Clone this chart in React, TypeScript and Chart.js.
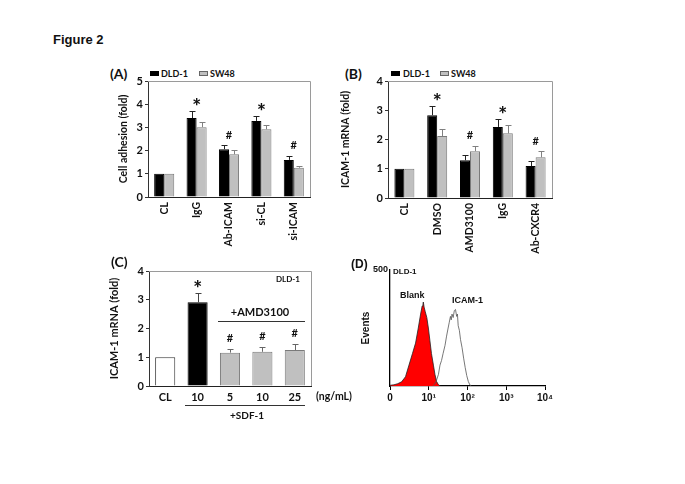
import React, { useEffect, useRef } from 'react';
import { Chart, registerables } from 'chart.js';
Chart.register(...registerables);

const SANS = 'Lato, "Open Sans", sans-serif';
const ARIAL = '"Liberation Sans", Arial, sans-serif';

// Panel A: cell adhesion
const adhesionCategories = ['CL', 'IgG', 'Ab-ICAM', 'si-CL', 'si-ICAM'];
const adhesionDLD1 = [1, 3.4, 2.06, 3.28, 1.6];
const adhesionDLD1Err = [0, 0.3, 0.17, 0.22, 0.18];
const adhesionSW48 = [1, 3.01, 1.84, 2.92, 1.26];
const adhesionSW48Err = [0, 0.21, 0.18, 0.18, 0.08];
const adhesionMarks = ['', '*', '#', '*', '#'];

// Panel B: ICAM-1 mRNA
const mrnaCategories = ['CL', 'DMSO', 'AMD3100', 'IgG', 'Ab-CXCR4'];
const mrnaDLD1 = [1, 2.83, 1.29, 2.43, 1.09];
const mrnaDLD1Err = [0, 0.32, 0.19, 0.27, 0.16];
const mrnaSW48 = [1, 2.12, 1.6, 2.21, 1.39];
const mrnaSW48Err = [0, 0.25, 0.19, 0.3, 0.21];
const mrnaMarks = ['', '*', '#', '*', '#'];

// Panel C: SDF-1 / AMD3100
const sdfLabels = ['CL', '10', '5', '10', '25'];
const sdfValues = [1, 2.91, 1.16, 1.19, 1.25];
const sdfErr = [0, 0.31, 0.13, 0.18, 0.22];
const sdfMarks = ['', '*', '#', '#', '#'];

// Panel D: flow cytometry (x in decades)
const flowTickLabels = ['0', '10¹', '10²', '10³', '10⁴'];
const blankX = [0, 0.1, 0.2, 0.3, 0.4, 0.49, 0.58, 0.66, 0.73, 0.79, 0.83, 0.85, 0.86, 0.88, 0.91, 0.95, 0.99, 1.03, 1.07, 1.12, 1.16, 1.2, 1.25, 1.3];
const blankY = [3, 5, 10, 18, 40, 90, 140, 185, 250, 310, 345, 352, 362, 340, 320, 295, 250, 195, 140, 90, 50, 20, 5, 0];
const icamX = [1.1, 1.15, 1.2, 1.25, 1.29, 1.33, 1.37, 1.42, 1.46, 1.5, 1.53, 1.56, 1.58, 1.6, 1.63, 1.66, 1.69, 1.72, 1.74, 1.76, 1.79, 1.82, 1.86, 1.9, 1.94, 1.98, 2.02, 2.06, 2.1];
const icamY = [0, 8, 25, 50, 90, 110, 140, 175, 215, 250, 275, 300, 285, 310, 295, 325, 330, 300, 310, 260, 240, 200, 165, 120, 80, 45, 20, 5, 0];

const framePlugin = {
  id: 'frame',
  beforeDatasetsDraw(chart: any, _a: any, opts: any) {
    if (!opts || !opts.show) return;
    const { ctx, chartArea: a } = chart;
    ctx.save();
    ctx.strokeStyle = '#9a9a9a';
    ctx.lineWidth = 1;
    ctx.beginPath();
    ctx.moveTo(a.left, Math.round(a.top) + 0.5);
    ctx.lineTo(Math.round(a.right) + 0.5, Math.round(a.top) + 0.5);
    ctx.lineTo(Math.round(a.right) + 0.5, a.bottom);
    ctx.stroke();
    ctx.restore();
  },
};

const errorBarPlugin = {
  id: 'errorBars',
  afterDatasetsDraw(chart: any) {
    const ctx = chart.ctx;
    const ys = chart.scales.y;
    chart.data.datasets.forEach((ds: any, di: number) => {
      if (!ds.errors) return;
      const meta = chart.getDatasetMeta(di);
      meta.data.forEach((el: any, i: number) => {
        const e = ds.errors[i];
        if (!e) return;
        const top = ys.getPixelForValue(ds.data[i] + e);
        const x = Math.round(el.x) + 0.5;
        ctx.save();
        ctx.strokeStyle = Array.isArray(ds.errColor) ? ds.errColor[i] : ds.errColor;
        ctx.lineWidth = 1;
        ctx.beginPath();
        ctx.moveTo(x, el.y);
        ctx.lineTo(x, Math.round(top) + 0.5);
        ctx.moveTo(x - 3, Math.round(top) + 0.5);
        ctx.lineTo(x + 3, Math.round(top) + 0.5);
        ctx.stroke();
        ctx.restore();
      });
    });
  },
};

const marksPlugin = {
  id: 'marks',
  afterDatasetsDraw(chart: any, _a: any, opts: any) {
    if (!opts || !opts.labels) return;
    const ctx = chart.ctx;
    const xs = chart.scales.x;
    const ys = chart.scales.y;
    opts.labels.forEach((lab: string, i: number) => {
      if (!lab) return;
      let top = Infinity;
      chart.data.datasets.forEach((ds: any) => {
        const v = ds.data[i] + (ds.errors ? ds.errors[i] : 0);
        top = Math.min(top, ys.getPixelForValue(v));
      });
      const x = xs.getPixelForValue(i);
      ctx.save();
      ctx.fillStyle = '#111';
      ctx.textAlign = 'center';
      ctx.textBaseline = 'middle';
      if (lab === '*') {
        ctx.font = `900 21px ${SANS}`;
        ctx.fillText('*', x, top - 4);
      } else {
        ctx.font = `bold 11px ${SANS}`;
        ctx.fillText(lab, x, top - 10);
      }
      ctx.restore();
    });
  },
};

type BarProps = {
  left: number; top: number; width: number; height: number;
  padTop: number; padRight: number; yWidth: number; xHeight: number;
  labels: string[]; datasets: any[]; yMax: number;
  yTitle: string; titlePad: number; titleSize: number;
  rotate: boolean; barPct: number; catPct: number; marks: string[]; xPad: number; xSize: number;
};

function BarPanel(p: BarProps) {
  const ref = useRef<HTMLCanvasElement>(null);
  useEffect(() => {
    const chart = new Chart(ref.current as HTMLCanvasElement, {
      type: 'bar',
      data: { labels: p.labels, datasets: p.datasets },
      options: {
        responsive: false,
        animation: false,
        layout: { padding: { top: p.padTop, right: p.padRight, left: 0, bottom: 0 } },
        datasets: { bar: { barPercentage: p.barPct, categoryPercentage: p.catPct } },
        plugins: {
          legend: { display: false },
          tooltip: { enabled: false },
          frame: { show: true },
          marks: { labels: p.marks },
        } as any,
        scales: {
          x: {
            grid: { display: false, drawTicks: false },
            border: { color: '#222', width: 1 },
            ticks: {
              color: '#111',
              font: { family: SANS, weight: 'bold', size: p.xSize },
              padding: p.xPad,
              minRotation: p.rotate ? 90 : 0,
              maxRotation: p.rotate ? 90 : 0,
              autoSkip: false,
            },
            afterFit: (s: any) => { s.height = p.xHeight; },
          },
          y: {
            min: 0,
            max: p.yMax,
            ticks: { stepSize: 1, color: '#111', font: { family: SANS, weight: 'bold', size: 11 }, padding: 2 },
            grid: { drawOnChartArea: false, drawTicks: true, tickLength: 3, color: '#333' },
            border: { color: '#333', width: 1 },
            title: {
              display: true,
              text: p.yTitle,
              color: '#111',
              font: { family: SANS, weight: 'bold', size: p.titleSize },
              padding: { top: p.titlePad, bottom: 0 },
            },
            afterFit: (s: any) => { s.width = p.yWidth; },
          },
        },
      } as any,
      plugins: [framePlugin, errorBarPlugin, marksPlugin],
    });
    return () => chart.destroy();
  }, []);
  return (
    <canvas
      ref={ref}
      width={p.width}
      height={p.height}
      style={{ position: 'absolute', left: p.left, top: p.top, width: p.width, height: p.height }}
    />
  );
}

function FlowPanel() {
  const ref = useRef<HTMLCanvasElement>(null);
  useEffect(() => {
    const chart = new Chart(ref.current as HTMLCanvasElement, {
      type: 'line',
      data: {
        datasets: [
          {
            label: 'ICAM-1',
            data: icamX.map((x, i) => ({ x, y: icamY[i] })),
            borderColor: '#555',
            borderWidth: 0.8,
            fill: false,
            pointRadius: 0,
            tension: 0,
          },
          {
            label: 'Blank',
            data: blankX.map((x, i) => ({ x, y: blankY[i] })),
            borderColor: '#222',
            borderWidth: 0.8,
            backgroundColor: '#ff0000',
            fill: 'origin',
            pointRadius: 0,
            tension: 0,
          },
        ],
      },
      options: {
        responsive: false,
        animation: false,
        layout: { padding: { top: 15, right: 25, left: 0, bottom: 0 } },
        plugins: { legend: { display: false }, tooltip: { enabled: false } },
        scales: {
          x: {
            type: 'linear',
            min: 0,
            max: 4,
            afterBuildTicks: (s: any) => { s.ticks = [0, 1, 2, 3, 4].map((v) => ({ value: v })); },
            ticks: {
              callback: (_v: any, i: number) => flowTickLabels[i],
              color: '#111',
              font: { family: ARIAL, weight: 'bold', size: 10 },
              padding: 2,
              maxRotation: 0,
            },
            grid: { display: true, drawOnChartArea: false, drawTicks: true, tickLength: 4, color: '#000' },
            border: { color: '#000', width: 1.3 },
            afterFit: (s: any) => { s.height = 29; },
          },
          y: {
            min: 0,
            max: 500,
            afterBuildTicks: (s: any) => { s.ticks = [{ value: 500 }]; },
            ticks: { color: '#111', font: { family: ARIAL, weight: 'bold', size: 9 }, padding: 2 },
            grid: { display: false, drawTicks: false },
            border: { color: '#000', width: 1.3 },
            title: {
              display: true,
              text: 'Events',
              color: '#111',
              font: { family: ARIAL, weight: 'bold', size: 10 },
              padding: { top: 20, bottom: 0 },
            },
            afterFit: (s: any) => { s.width = 50; },
          },
        },
      } as any,
    });
    return () => chart.destroy();
  }, []);
  return (
    <canvas
      ref={ref}
      width={230}
      height={160}
      style={{ position: 'absolute', left: 340, top: 255, width: 230, height: 160 }}
    />
  );
}

function Txt(props: { x: number; y: number; text: string; size: number; family?: string; align?: 'left' | 'center' | 'right' }) {
  const align = props.align || 'left';
  const tx = align === 'center' ? '-50%' : align === 'right' ? '-100%' : '0';
  return (
    <div
      style={{
        position: 'absolute',
        left: props.x,
        top: props.y,
        transform: `translate(${tx}, -50%)`,
        font: `bold ${props.size}px ${props.family || SANS}`,
        lineHeight: `${props.size}px`,
        whiteSpace: 'nowrap',
        color: '#111',
      }}
    >
      {props.text}
    </div>
  );
}

function Swatch(props: { x: number; y: number; fill: string; border: string }) {
  return (
    <div
      style={{
        position: 'absolute',
        left: props.x,
        top: props.y,
        width: 9,
        height: 5,
        boxSizing: 'border-box',
        background: props.fill,
        border: `1px solid ${props.border}`,
      }}
    />
  );
}

function HLine(props: { x: number; y: number; w: number }) {
  return <div style={{ position: 'absolute', left: props.x, top: props.y, width: props.w, height: 1, background: '#333' }} />;
}

export default function App() {
  const dsA = [
    { label: 'DLD-1', data: adhesionDLD1, errors: adhesionDLD1Err, errColor: '#222', backgroundColor: '#000', borderColor: '#000', borderWidth: 1 },
    { label: 'SW48', data: adhesionSW48, errors: adhesionSW48Err, errColor: '#808080', backgroundColor: '#c0c0c0', borderColor: '#7a7a7a', borderWidth: 1 },
  ];
  const dsB = [
    { label: 'DLD-1', data: mrnaDLD1, errors: mrnaDLD1Err, errColor: '#222', backgroundColor: '#000', borderColor: '#000', borderWidth: 1 },
    { label: 'SW48', data: mrnaSW48, errors: mrnaSW48Err, errColor: '#808080', backgroundColor: '#c0c0c0', borderColor: '#7a7a7a', borderWidth: 1 },
  ];
  const dsC = [
    {
      label: 'DLD-1',
      data: sdfValues,
      errors: sdfErr,
      errColor: ['#444', '#444', '#666', '#666', '#666'],
      backgroundColor: ['#ffffff', '#000000', '#c0c0c0', '#c0c0c0', '#c0c0c0'],
      borderColor: ['#333', '#000', '#7a7a7a', '#7a7a7a', '#7a7a7a'],
      borderWidth: 1,
    },
  ];
  return (
    <div style={{ position: 'fixed', left: 0, top: 0, width: 685, height: 484, background: '#fff', overflow: 'hidden' }}>
      <Txt x={53} y={39} text="Figure 2" size={13} family={ARIAL} />

      {/* Panel A */}
      <Txt x={110} y={74} text="(A)" size={14} />
      <Swatch x={150} y={71} fill="#000" border="#000" />
      <Txt x={161} y={73} text="DLD-1" size={9} />
      <Swatch x={199} y={71} fill="#c0c0c0" border="#666" />
      <Txt x={210} y={73} text="SW48" size={9} />
      <BarPanel
        left={100} top={60} width={215} height={200}
        padTop={21} padRight={5} yWidth={48} xHeight={63}
        labels={adhesionCategories} datasets={dsA} yMax={5}
        yTitle="Cell adhesion (fold)" titlePad={17} titleSize={10.5}
        rotate={true} barPct={1} catPct={0.62} marks={adhesionMarks} xPad={5} xSize={10.5}
      />

      {/* Panel B */}
      <Txt x={345} y={74} text="(B)" size={14} />
      <Swatch x={391} y={71} fill="#000" border="#000" />
      <Txt x={403} y={73} text="DLD-1" size={9} />
      <Swatch x={440} y={71} fill="#c0c0c0" border="#666" />
      <Txt x={451} y={73} text="SW48" size={9} />
      <BarPanel
        left={330} top={60} width={230} height={200}
        padTop={21} padRight={8} yWidth={58} xHeight={62}
        labels={mrnaCategories} datasets={dsB} yMax={4}
        yTitle="ICAM-1 mRNA (fold)" titlePad={9} titleSize={10.5}
        rotate={true} barPct={1} catPct={0.61} marks={mrnaMarks} xPad={5} xSize={10.5}
      />

      {/* Panel C */}
      <Txt x={111} y={262} text="(C)" size={14} />
      <BarPanel
        left={100} top={255} width={225} height={150}
        padTop={16} padRight={14} yWidth={49} xHeight={19}
        labels={sdfLabels} datasets={dsC} yMax={4}
        yTitle="ICAM-1 mRNA (fold)" titlePad={8} titleSize={11}
        rotate={false} barPct={0.62} catPct={1} marks={sdfMarks} xPad={5} xSize={11}
      />
      <Txt x={276} y={279} text="DLD-1" size={8} />
      <Txt x={260} y={311} text="+AMD3100" size={11} align="center" />
      <HLine x={218} y={321} w={87} />
      <Txt x={316} y={396} text="(ng/mL)" size={10.5} />
      <HLine x={185} y={405} w={120} />
      <Txt x={247} y={415} text="+SDF-1" size={10} align="center" />

      {/* Panel D */}
      <Txt x={351} y={264} text="(D)" size={12} family={ARIAL} />
      <FlowPanel />
      <Txt x={393} y={272} text="DLD-1" size={8} family={ARIAL} />
      <Txt x={400} y={295} text="Blank" size={9} family={ARIAL} />
      <Txt x={452} y={300} text="ICAM-1" size={9} family={ARIAL} />
    </div>
  );
}
